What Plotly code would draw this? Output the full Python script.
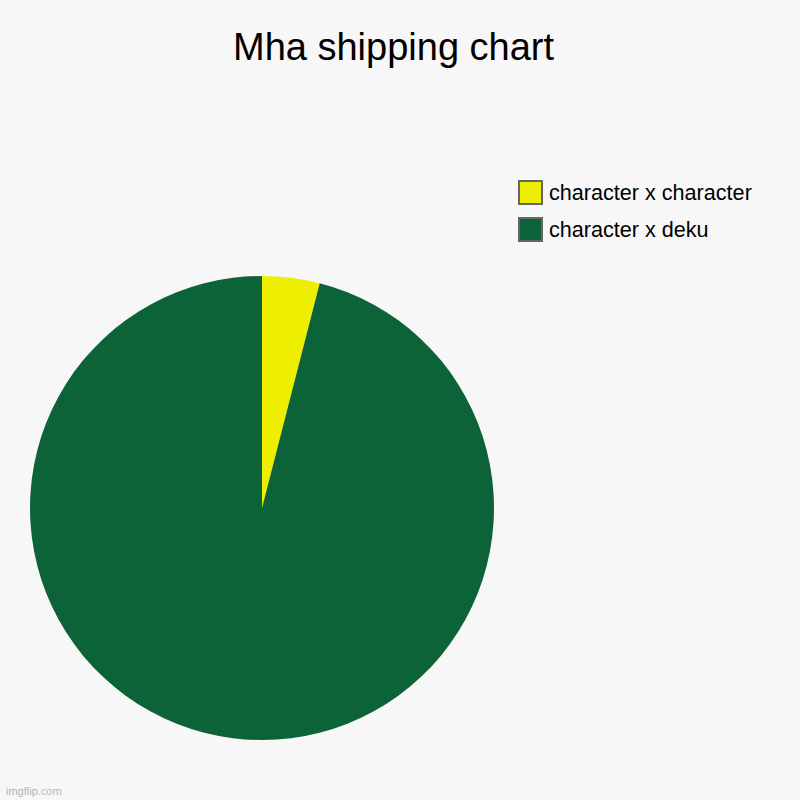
import plotly.graph_objects as go

labels = ["character x character", "character x deku"]
values = [4, 96]
colors = ["#EEEE00", "#0D6338"]
title = "Mha shipping chart"
W = H = 800

fig = go.Figure(go.Pie(
    labels=labels, values=values, sort=False, direction="clockwise", rotation=0,
    marker=dict(colors=colors, line=dict(width=0)),
    textinfo="none", hoverinfo="skip", showlegend=False,
    domain=dict(x=[30 / W, 494 / W], y=[(H - 740) / H, (H - 276) / H]),
))

shapes, annotations = [], []
for i, (lab, col) in enumerate(zip(labels, colors)):
    y0 = 181 + i * 37
    shapes.append(dict(type="rect", xref="paper", yref="paper",
                       x0=519 / W, x1=542 / W, y0=1 - (y0 + 23) / H, y1=1 - y0 / H,
                       fillcolor=col, line=dict(color="#666666", width=2)))
    annotations.append(dict(text=lab, xref="paper", yref="paper", x=547 / W, y=1 - (y0 + 11.5) / H,
                            xanchor="left", yanchor="middle", showarrow=False,
                            font=dict(size=21.6, color="#000000", family="Liberation Sans")))

annotations.append(dict(text=title, xref="paper", yref="paper", x=394 / W, y=1 - 47 / H,
                        xanchor="center", yanchor="middle", showarrow=False,
                        font=dict(size=38, color="#000000", family="Liberation Sans")))
annotations.append(dict(text="imgflip.com", xref="paper", yref="paper", x=4 / W, y=1 - 791 / H,
                        xanchor="left", yanchor="middle", showarrow=False,
                        font=dict(size=11, color="#B5B5B5", family="Liberation Sans")))

fig.update_layout(width=W, height=H, margin=dict(l=0, r=0, t=0, b=0),
                  paper_bgcolor="#F7F7F7", plot_bgcolor="#F7F7F7",
                  shapes=shapes, annotations=annotations)
fig.write_html("out.html", config=dict(displayModeBar=False),
               post_script="document.body.style.margin='0';document.body.style.overflow='hidden';")
